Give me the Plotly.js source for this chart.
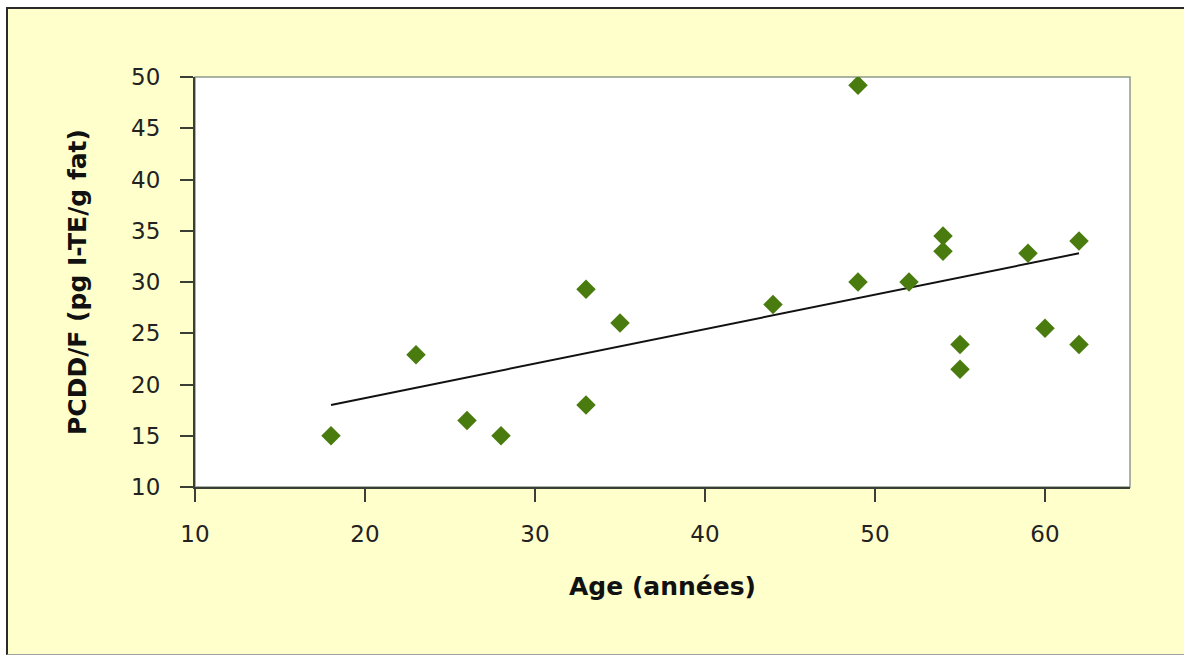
<!DOCTYPE html>
<html>
<head>
<meta charset="utf-8">
<script src="https://cdn.plot.ly/plotly-3.0.1.min.js"></script>
<style>
  html, body { margin: 0; padding: 0; background: #ffffff; width: 1184px; height: 655px; overflow: hidden; }
  #frame { position: absolute; left: 6px; top: 7px; width: 1178px; height: 645px;
           background: #FFFFCC; border-left: 2px solid #2a2a2a; border-top: 2px solid #2a2a2a;
           border-bottom: 1px solid #a0a0a0; }
  #chart { position: absolute; left: 0; top: 0; width: 1184px; height: 655px; }
</style>
</head>
<body>
<div id="frame"></div>
<div id="chart"></div>
<script>
// Age (years) and PCDD/F (pg I-TE/g fat)
const ageYears = [18, 23, 26, 28, 33, 33, 35, 44, 49, 49, 52, 54, 54, 55, 55, 59, 60, 62, 62];
const pcddfValues = [15, 22.9, 16.5, 15, 29.3, 18, 26, 27.8, 49.2, 30, 30, 34.5, 33, 23.9, 21.5, 32.8, 25.5, 34, 23.9];
// Linear trend line end points
const trendAge = [18, 62];
const trendValues = [18.0, 32.8];
const xTicks = [10, 20, 30, 40, 50, 60];
const yTicks = [10, 15, 20, 25, 30, 35, 40, 45, 50];
const xTitle = 'Age (années)';
const yTitle = 'PCDD/F (pg I-TE/g fat)';

const FONT = 'DejaVu Sans, sans-serif';

const data = [
  {
    x: trendAge, y: trendValues, type: 'scatter', mode: 'lines',
    line: { color: '#111111', width: 2 }, hoverinfo: 'skip', showlegend: false
  },
  {
    x: ageYears, y: pcddfValues, type: 'scatter', mode: 'markers',
    marker: { symbol: 'diamond', size: 15, color: '#4A7B0E', line: { width: 0 } },
    showlegend: false
  }
];

const axisCommon = {
  showgrid: false, zeroline: false, showline: true, linecolor: '#3a3f35', linewidth: 2,
  ticks: 'outside', ticklen: 13, tickwidth: 2, tickcolor: '#3a3f35',
  tickfont: { family: FONT, size: 23, color: '#222222' }
};

const layout = {
  width: 1184, height: 655,
  paper_bgcolor: 'rgba(0,0,0,0)', plot_bgcolor: '#ffffff',
  margin: { l: 195, r: 54, t: 77, b: 168 },
  showlegend: false,
  xaxis: Object.assign({}, axisCommon, {
    range: [10, 65], tickmode: 'array', tickvals: xTicks, ticktext: xTicks.map(String),
    ticklabelstandoff: 12,
    title: { text: xTitle, font: { family: FONT, size: 25, color: '#111111', weight: 'bold' }, standoff: 32 }
  }),
  yaxis: Object.assign({}, axisCommon, {
    range: [10, 50], tickmode: 'array', tickvals: yTicks, ticktext: yTicks.map(String),
    ticklabelstandoff: 15,
    title: { text: yTitle, font: { family: FONT, size: 25, color: '#111111', weight: 'bold' }, standoff: 37 }
  }),
  shapes: [
    { type: 'rect', xref: 'paper', yref: 'paper', x0: 0, x1: 1, y0: 0, y1: 1,
      line: { color: '#8f9a88', width: 1.5 }, layer: 'below' }
  ]
};

Plotly.newPlot('chart', data, layout, { displayModeBar: false, staticPlot: true });
</script>
</body>
</html>
